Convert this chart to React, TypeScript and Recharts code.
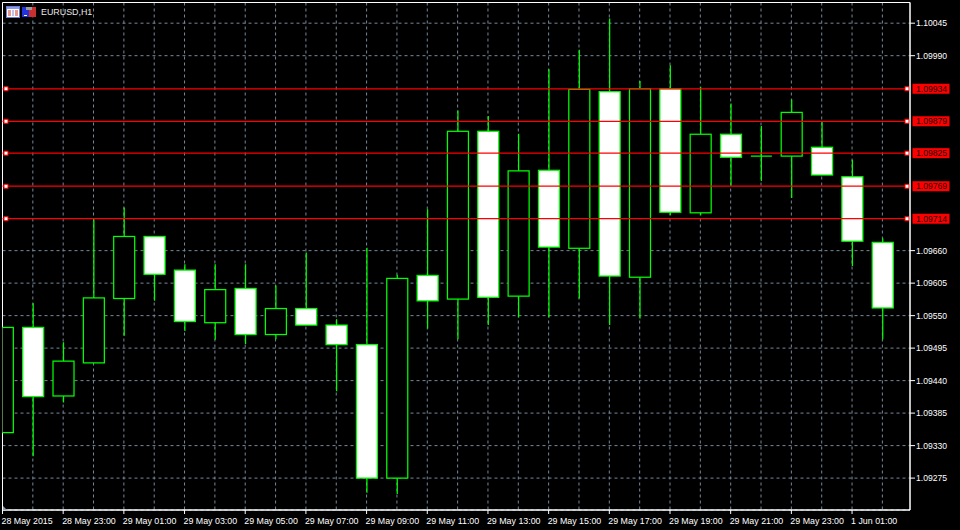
import { BarChart, Bar, XAxis, YAxis, CartesianGrid, ReferenceLine, ReferenceArea } from 'recharts'

const opens = [
  1.09352, 1.0953, 1.09414, 1.0947, 1.09579, 1.09684, 1.09627, 1.09538, 1.09596, 1.09518,
  1.09562, 1.09534, 1.09501, 1.09275, 1.09618, 1.09578, 1.09862, 1.09583, 1.09796, 1.09664,
  1.09929, 1.09615, 1.09934, 1.09724, 1.09857, 1.0982, 1.0982, 1.09835, 1.09785, 1.09674,
]
const highs = [
  1.0953, 1.09571, 1.09505, 1.09713, 1.09733, 1.09684, 1.09637, 1.09637, 1.09637, 1.09601,
  1.09657, 1.09544, 1.09665, 1.09619, 1.0973, 1.09897, 1.09888, 1.09858, 1.09967, 1.1,
  1.10053, 1.09947, 1.09974, 1.09937, 1.09909, 1.09871, 1.09916, 1.09878, 1.09814, 1.09681,
]
const lows = [
  1.09352, 1.09312, 1.09403, 1.0947, 1.09516, 1.09575, 1.09524, 1.09509, 1.09502, 1.0951,
  1.09534, 1.09422, 1.0925, 1.09248, 1.09528, 1.0951, 1.09534, 1.09547, 1.09547, 1.09579,
  1.09534, 1.09545, 1.0972, 1.0972, 1.0977, 1.09778, 1.09749, 1.09788, 1.09634, 1.0951,
]
const closes = [
  1.0953, 1.09413, 1.09473, 1.0958, 1.09684, 1.0962, 1.0954, 1.09594, 1.09518, 1.09562,
  1.09534, 1.09501, 1.09275, 1.09613, 1.09575, 1.09862, 1.09581, 1.09795, 1.09666, 1.09933,
  1.09617, 1.09934, 1.09725, 1.09857, 1.09818, 1.0982, 1.09894, 1.09788, 1.09676, 1.09563,
]

const priceTicks = [
  1.10045, 1.0999, 1.09660, 1.09605, 1.0955, 1.09495, 1.0944, 1.09385, 1.0933, 1.09275,
]
const redLevels = [1.09934, 1.09879, 1.09825, 1.09769, 1.09714]
const timeLabels: Record<number, string> = {
  0: '28 May 2015',
  2: '28 May 23:00',
  4: '29 May 01:00',
  6: '29 May 03:00',
  8: '29 May 05:00',
  10: '29 May 07:00',
  12: '29 May 09:00',
  14: '29 May 11:00',
  16: '29 May 13:00',
  18: '29 May 15:00',
  20: '29 May 17:00',
  22: '29 May 19:00',
  24: '29 May 21:00',
  26: '29 May 23:00',
  28: '1 Jun 01:00',
}

const GREEN = '#00ff00'
const GRID = '#778899'
const FONT = '"Liberation Sans", Arial, sans-serif'
const Y_DOMAIN: [number, number] = [1.09221, 1.1008]
const X_MAX = 29.91

const data = opens.map((open, i) => ({
  idx: i,
  open,
  close: closes[i],
  high: highs[i],
  low: lows[i],
  range: [lows[i], highs[i]],
}))

const gridXs = data.slice(1).map(d => d.idx)

function Candle(props: any) {
  const { x, y, width, height, payload } = props
  const { open, close, high, low } = payload
  const perUnit = height / (high - low)
  const top = y + (high - Math.max(open, close)) * perUnit
  const bottom = y + (high - Math.min(open, close)) * perUnit
  const mid = x + width / 2
  const doji = open === close
  return (
    <g>
      <line x1={mid} x2={mid} y1={y} y2={y + height} stroke={GREEN} strokeWidth={1.25} />
      {doji ? (
        <line x1={x} x2={x + width} y1={top} y2={top} stroke={GREEN} strokeWidth={1.25} />
      ) : (
        <rect
          x={x}
          y={top}
          width={width}
          height={bottom - top}
          fill={close > open ? '#000000' : '#ffffff'}
          stroke={GREEN}
          strokeWidth={1.25}
        />
      )}
    </g>
  )
}

function TimeTick({ x, y, payload }: any) {
  return (
    <text x={x - 1} y={y + 7.5} fill="#ffffff" fontSize={8.85} fontFamily={FONT} textAnchor="start">
      {timeLabels[payload.value]}
    </text>
  )
}

function PriceTick({ x, y, payload }: any) {
  return (
    <text x={x - 1} y={y + 3} fill="#ffffff" fontSize={8.6} fontFamily={FONT} textAnchor="start">
      {payload.value.toFixed(5)}
    </text>
  )
}

function RedLevel({ x1, x2, y1, price }: any) {
  // the axis sits on the right, so the line's ends come in reversed
  const left = Math.min(x1, x2)
  const right = Math.max(x1, x2)
  return (
    <g>
      <line x1={left} x2={right} y1={y1} y2={y1} stroke="#ff0000" strokeWidth={1.25} />
      <rect x={left + 1.5} y={y1 - 2} width={4} height={4} fill="#ffffff" stroke="#ff0000" strokeWidth={1} />
      <rect x={right - 5} y={y1 - 2} width={4} height={4} fill="#ffffff" stroke="#ff0000" strokeWidth={1} />
      <rect x={right + 2.5} y={y1 - 5} width={37} height={10} fill="#ff0000" />
      <text x={right + 6} y={y1 + 3} fill="#200000" fontSize={8.6} fontFamily={FONT}>
        {price.toFixed(5)}
      </text>
    </g>
  )
}

function HeaderIcons() {
  return (
    <svg width={960} height={530} style={{ position: 'absolute', left: 0, top: 0, pointerEvents: 'none' }}>
      <rect x={6.5} y={6.5} width={13} height={11} fill="#ffffff" stroke="#6a7ad8" strokeWidth={1} />
      <rect x={7} y={7} width={12} height={2} fill="#8f9be4" />
      <rect x={8} y={10} width={3} height={6} fill="#e8988c" />
      <rect x={12} y={10} width={2} height={6} fill="#b8c4ec" />
      <rect x={15} y={10} width={3} height={6} fill="#e8988c" />
      <rect x={22} y={7} width={7} height={10} fill="#2233dd" />
      <rect x={29} y={7} width={7} height={10} fill="#c83030" />
      <rect x={26} y={7} width={6} height={3} fill="#9a9a9a" />
      <rect x={24} y={15} width={3} height={1} fill="#ffffff" />
      <polygon points="3,510 3,506 7,510" fill="#8aa0b8" />
      <text x={41} y={15} fill="#e8e8e8" fontSize={8.9} fontFamily={FONT}>EURUSD,H1</text>
    </svg>
  )
}

export default function App() {
  return (
    <div style={{ position: 'relative', width: 960, height: 530, background: '#000000', overflow: 'hidden' }}>
      <style>{'body{margin:0;background:#000}'}</style>
      <BarChart
        width={960}
        height={530}
        data={data}
        margin={{ top: 2.5, right: 0, bottom: 0, left: 2.5 }}
        style={{ background: '#000000' }}
      >
        <CartesianGrid
          stroke={GRID}
          strokeWidth={1}
          strokeDasharray="3 3"
          verticalValues={gridXs}
        />
        <XAxis
          dataKey="idx"
          type="number"
          domain={[0, X_MAX]}
          allowDataOverflow
          ticks={Object.keys(timeLabels).map(Number)}
          interval={0}
          height={20}
          stroke="#ffffff"
          tickLine={{ stroke: '#ffffff' }}
          tickSize={4}
          tick={<TimeTick />}
        />
        <YAxis
          orientation="right"
          type="number"
          domain={Y_DOMAIN}
          allowDataOverflow
          ticks={priceTicks}
          interval={0}
          width={50}
          stroke="#ffffff"
          tickLine={{ stroke: '#ffffff' }}
          tickSize={5}
          tick={<PriceTick />}
        />
        <Bar dataKey="range" barSize={21} shape={<Candle />} isAnimationActive={false} />
        <ReferenceArea
          x1={0}
          x2={X_MAX}
          y1={Y_DOMAIN[0]}
          y2={Y_DOMAIN[1]}
          fill="none"
          stroke="#ffffff"
          strokeWidth={1}
          fillOpacity={0}
          ifOverflow="visible"
        />
        {redLevels.map(price => (
          <ReferenceLine
            key={price}
            y={price}
            shape={(p: any) => <RedLevel {...p} price={price} />}
          />
        ))}
      </BarChart>
      <HeaderIcons />
    </div>
  )
}
